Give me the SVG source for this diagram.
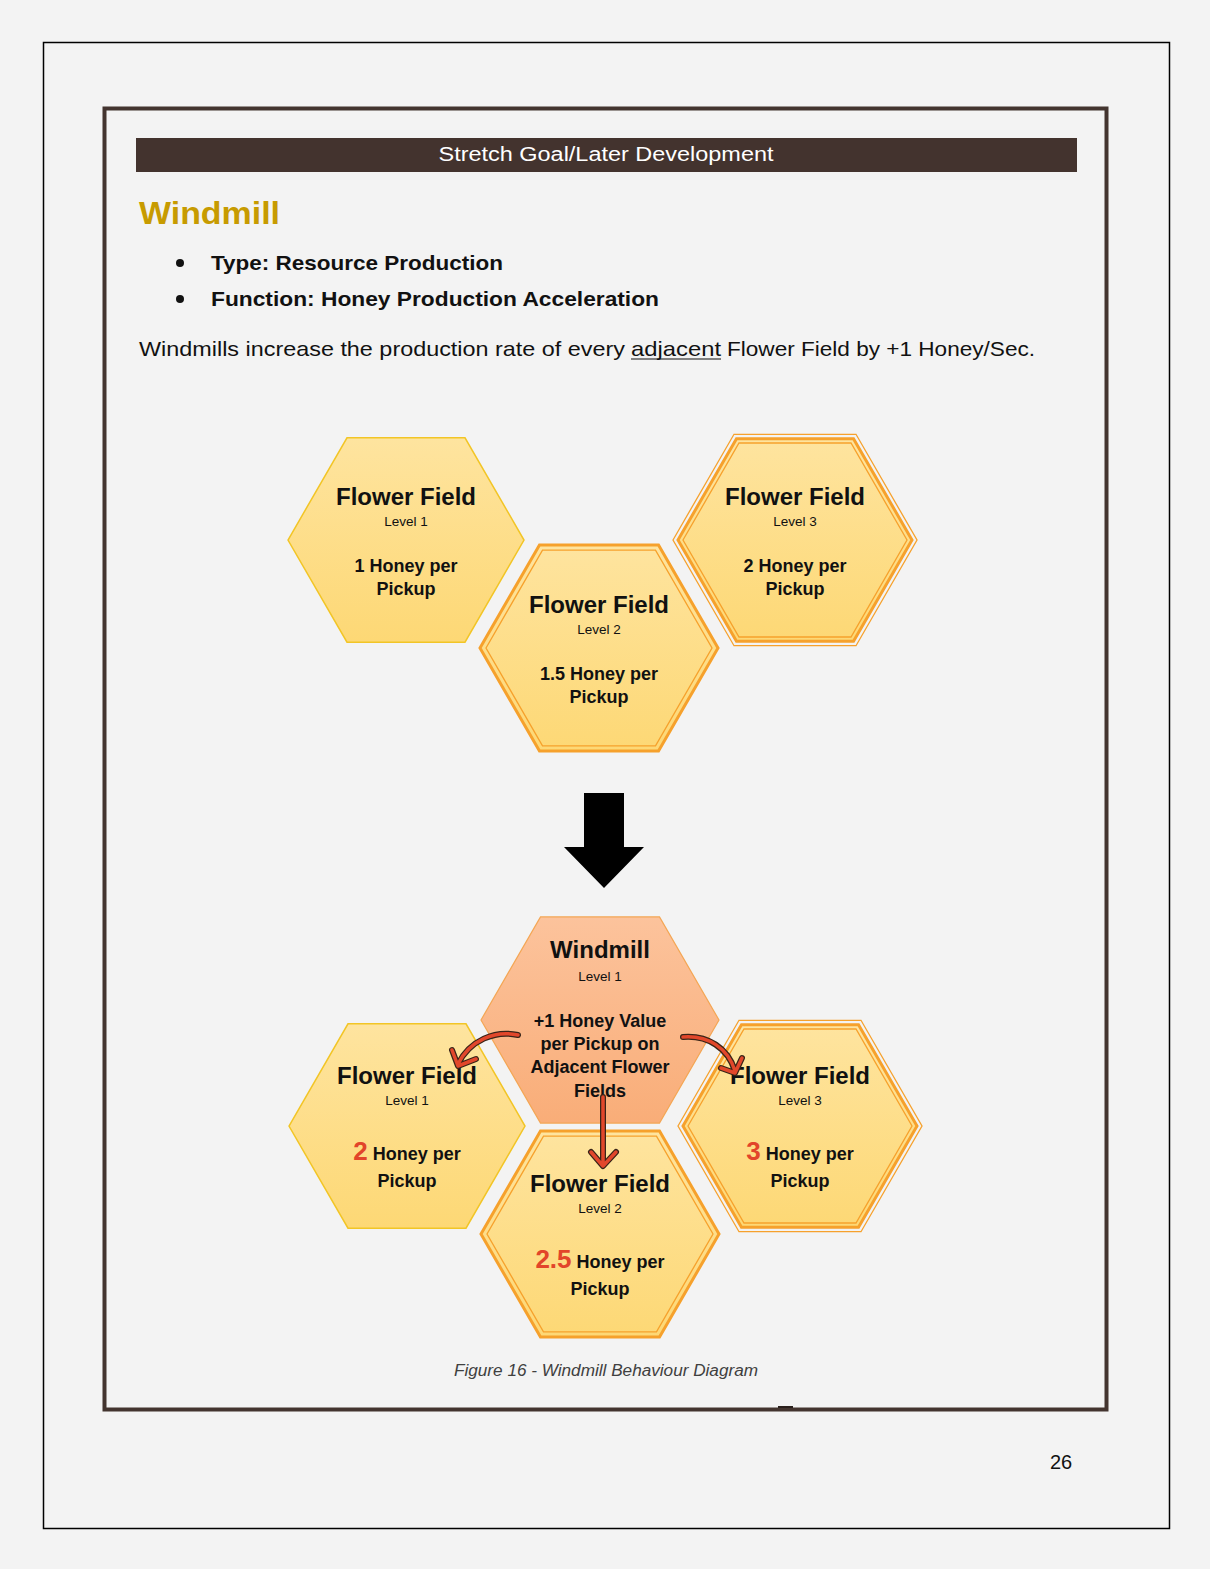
<svg xmlns="http://www.w3.org/2000/svg" width="1210" height="1569" viewBox="0 0 1210 1569">
<defs>
<linearGradient id="gy" x1="0" y1="0" x2="0" y2="1"><stop offset="0" stop-color="#fee49f"/><stop offset="1" stop-color="#fdd875"/></linearGradient>
<linearGradient id="gp" x1="0" y1="0" x2="0" y2="1"><stop offset="0" stop-color="#fcc39c"/><stop offset="1" stop-color="#f9ad78"/></linearGradient>
<style>
.t{font-family:"Liberation Sans",Arial,sans-serif;}
.h1{font-family:"Liberation Sans",Arial,sans-serif;font-weight:bold;font-size:24px;fill:#111;text-anchor:middle;}
.lv{font-family:"Liberation Sans",Arial,sans-serif;font-size:13.5px;fill:#111;text-anchor:middle;}
.bd{font-family:"Liberation Sans",Arial,sans-serif;font-weight:bold;font-size:18px;fill:#111;text-anchor:middle;}
.red{fill:#e2452a;font-size:26px;}
.y1{fill:url(#gy);stroke:#f2c526;stroke-width:1.5;}
.o2{fill:url(#gy);stroke:#f6a12c;stroke-width:3;}
.thin{fill:none;stroke:#f6a12c;stroke-width:1.3;}
.wm{fill:url(#gp);stroke:#f4a654;stroke-width:1.2;}
.ao{fill:none;stroke:#3a2418;stroke-width:6;stroke-linecap:round;stroke-linejoin:round;}
.ai{fill:none;stroke:#e2472b;stroke-width:3.5;stroke-linecap:round;stroke-linejoin:round;}
</style>
</defs>
<rect width="1210" height="1569" fill="#f3f3f3"/>
<rect x="43.5" y="42.5" width="1126" height="1486" fill="none" stroke="#000" stroke-width="1.5"/>
<rect x="104.5" y="108.5" width="1002" height="1301" fill="none" stroke="#43342f" stroke-width="4"/>
<rect x="778" y="1406" width="15" height="2" fill="#2a201c"/>
<rect x="136" y="138" width="941" height="34" fill="#43332e"/>
<text class="t" x="606" y="161" font-size="20" fill="#fff" text-anchor="middle" textLength="335" lengthAdjust="spacingAndGlyphs">Stretch Goal/Later Development</text>
<text class="t" x="139" y="224" font-size="32" font-weight="bold" fill="#c79b00" textLength="141" lengthAdjust="spacingAndGlyphs">Windmill</text>
<circle cx="180" cy="263" r="4" fill="#111"/>
<circle cx="180" cy="299" r="4" fill="#111"/>
<text class="t" x="211" y="270" font-size="21" font-weight="bold" fill="#111" textLength="292" lengthAdjust="spacingAndGlyphs">Type: Resource Production</text>
<text class="t" x="211" y="306" font-size="21" font-weight="bold" fill="#111" textLength="448" lengthAdjust="spacingAndGlyphs">Function: Honey Production Acceleration</text>
<text class="t" x="139" y="356" font-size="21" fill="#111" textLength="486" lengthAdjust="spacingAndGlyphs">Windmills increase the production rate of every</text>
<text class="t" x="631" y="356" font-size="21" fill="#111" textLength="90" lengthAdjust="spacingAndGlyphs">adjacent</text>
<text class="t" x="727" y="356" font-size="21" fill="#111" textLength="308" lengthAdjust="spacingAndGlyphs">Flower Field by +1 Honey/Sec.</text>
<line x1="631" y1="359" x2="721" y2="359" stroke="#111" stroke-width="1.2"/>

<g id="ff1-top">
<polygon class="y1" points="288,540 347,437.8 465,437.8 524,540 465,642.2 347,642.2"/>
<text class="h1" x="406" y="505">Flower Field</text>
<text class="lv" x="406" y="526">Level 1</text>
<text class="bd" x="406" y="572">1 Honey per</text>
<text class="bd" x="406" y="595">Pickup</text>
</g>
<g id="ff3-top">
<polygon class="thin" points="673,540 734,434.3 856,434.3 917,540 856,645.7 734,645.7"/>
<polygon class="o2" points="678,540 736.5,438.7 853.5,438.7 912,540 853.5,641.3 736.5,641.3"/>
<polygon class="thin" points="683,540 739,443 851,443 907,540 851,637 739,637"/>
<text class="h1" x="795" y="505">Flower Field</text>
<text class="lv" x="795" y="526">Level 3</text>
<text class="bd" x="795" y="572">2 Honey per</text>
<text class="bd" x="795" y="595">Pickup</text>
</g>
<g id="ff2-top">
<polygon class="o2" points="480,648 539.5,544.9 658.5,544.9 718,648 658.5,751.1 539.5,751.1"/>
<polygon class="thin" points="486,648 542.5,550.1 655.5,550.1 712,648 655.5,745.9 542.5,745.9"/>
<text class="h1" x="599" y="613">Flower Field</text>
<text class="lv" x="599" y="634">Level 2</text>
<text class="bd" x="599" y="680">1.5 Honey per</text>
<text class="bd" x="599" y="703">Pickup</text>
</g>

<g id="big-arrow">
<polygon points="584,793 624,793 624,847 644,847 604,888 564,847 584,847" fill="#000"/>
</g>

<g id="windmill">
<polygon class="wm" points="481,1020 540.5,916.9 659.5,916.9 719,1020 659.5,1123.1 540.5,1123.1"/>
<text class="h1" x="600" y="958">Windmill</text>
<text class="lv" x="600" y="981">Level 1</text>
<text class="bd" x="600" y="1027">+1 Honey Value</text>
<text class="bd" x="600" y="1050">per Pickup on</text>
<text class="bd" x="600" y="1073">Adjacent Flower</text>
<text class="bd" x="600" y="1097">Fields</text>
</g>
<g id="ff1-bottom">
<polygon class="y1" points="289,1126 348,1023.8 466,1023.8 525,1126 466,1228.2 348,1228.2"/>
<text class="h1" x="407" y="1084">Flower Field</text>
<text class="lv" x="407" y="1105">Level 1</text>
<text class="bd" x="407" y="1160"><tspan class="red">2</tspan> Honey per</text>
<text class="bd" x="407" y="1187">Pickup</text>
</g>
<g id="ff3-bottom">
<polygon class="thin" points="678,1126 739,1020.3 861,1020.3 922,1126 861,1231.7 739,1231.7"/>
<polygon class="o2" points="683,1126 741.5,1024.7 858.5,1024.7 917,1126 858.5,1227.3 741.5,1227.3"/>
<polygon class="thin" points="688,1126 744,1029 856,1029 912,1126 856,1223 744,1223"/>
<text class="h1" x="800" y="1084">Flower Field</text>
<text class="lv" x="800" y="1105">Level 3</text>
<text class="bd" x="800" y="1160"><tspan class="red">3</tspan> Honey per</text>
<text class="bd" x="800" y="1187">Pickup</text>
</g>
<g id="ff2-bottom">
<polygon class="o2" points="481,1234 540.5,1130.9 659.5,1130.9 719,1234 659.5,1337.1 540.5,1337.1"/>
<polygon class="thin" points="487,1234 543.5,1136.1 656.5,1136.1 713,1234 656.5,1331.9 543.5,1331.9"/>
<text class="h1" x="600" y="1192">Flower Field</text>
<text class="lv" x="600" y="1213">Level 2</text>
<text class="bd" x="600" y="1268"><tspan class="red">2.5</tspan> Honey per</text>
<text class="bd" x="600" y="1295">Pickup</text>
</g>

<g id="connectors">
<path class="ao" d="M518,1035 C495,1030 470,1040 458,1064 M452,1050 L458,1066 L476,1059"/>
<path class="ai" d="M518,1035 C495,1030 470,1040 458,1064 M452,1050 L458,1066 L476,1059"/>
<path class="ao" d="M683,1037 C708,1035 728,1048 735,1071 M721,1068 L735,1073 L742,1058"/>
<path class="ai" d="M683,1037 C708,1035 728,1048 735,1071 M721,1068 L735,1073 L742,1058"/>
<path class="ao" d="M603,1097 L603,1164 M591,1152 L603,1166 L616,1152"/>
<path class="ai" d="M603,1097 L603,1164 M591,1152 L603,1166 L616,1152"/>
</g>

<text class="t" x="606" y="1376" font-size="16" font-style="italic" fill="#404040" text-anchor="middle" textLength="304" lengthAdjust="spacingAndGlyphs">Figure 16 - Windmill Behaviour Diagram</text>
<text class="t" x="1061" y="1469" font-size="20" fill="#111" text-anchor="middle">26</text>
</svg>
